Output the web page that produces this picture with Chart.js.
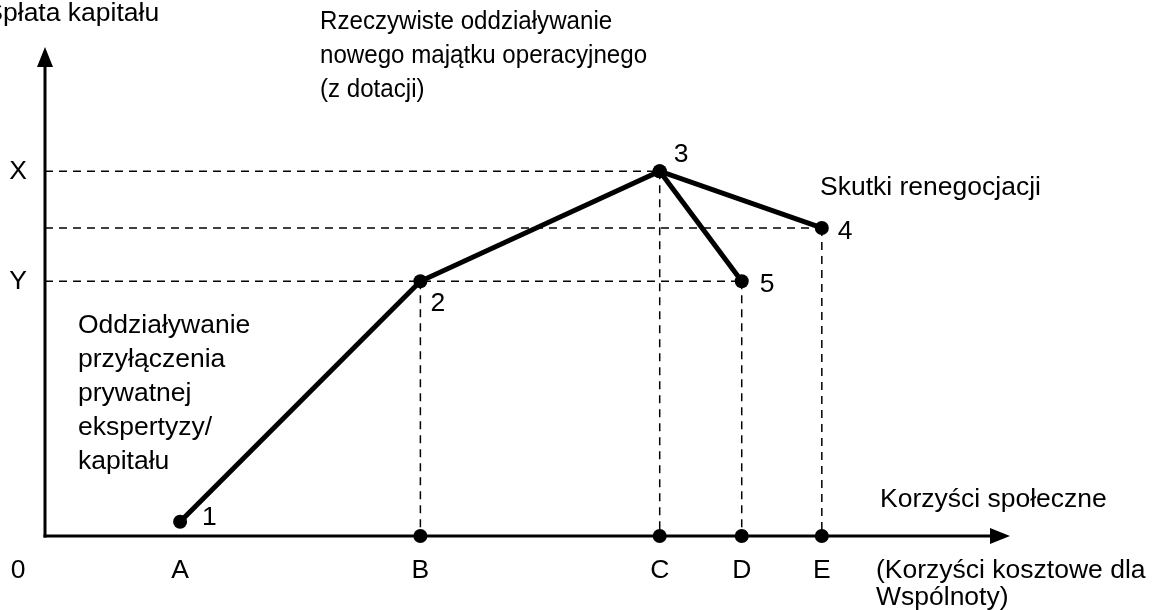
<!DOCTYPE html>
<html lang="pl">
<head>
<meta charset="UTF-8">
<title>Korzyści społeczne</title>
<style>
  body { margin: 0; background: #fff; }
  #wrap { width: 1152px; height: 610px; position: relative; }
</style>
</head>
<body>
<div id="wrap"><canvas id="myChart"></canvas></div>

<script src="https://cdn.jsdelivr.net/npm/chart.js"></script>
<script>
// points of the path (abstract units, origin = 0)
const pointNames = ['1', '2', '3', '4', '5'];
const pointX = [1.4, 3.89, 6.37, 8.05, 7.22];
const pointY = [0.29, 5.21, 7.46, 6.3, 5.21];
const mainPath = [0, 1, 2, 3];   // 1 -> 2 -> 3 -> 4
const branchPath = [2, 4];       // 3 -> 5

// axis ticks
const xTickLabels = ['0', 'A', 'B', 'C', 'D', 'E'];
const xTickValues = [0, 1.4, 3.89, 6.37, 7.22, 8.05];
const yTickLabels = ['X', 'Y'];
const yTickValues = [7.46, 5.21];

// dots sitting on the x axis
const axisDotX = [3.89, 6.37, 7.22, 8.05];

// dashed guides: [x of corner, y of corner]
const guideX = [6.37, 8.05, 7.22, 3.89];
const guideY = [7.46, 6.3, 5.21, 5.21];

const FONT = '"Liberation Sans", Arial, sans-serif';

function pathData(idx) {
    return idx.map(i => ({x: pointX[i], y: pointY[i]}))
}

let guideData = []
for (let i = 0; i < guideX.length; i++) {
    // horizontal from y axis, then vertical down to x axis
    guideData.push({x: 0, y: guideY[i]}, {x: guideX[i], y: guideY[i]}, {x: guideX[i], y: null})
    guideData.push({x: guideX[i], y: guideY[i]}, {x: guideX[i], y: 0}, {x: guideX[i], y: null})
}

const textPlugin = {
    id: 'texts',
    beforeDatasetsDraw(chart) {
        const c = chart.ctx;
        const xs = chart.scales.x, ys = chart.scales.y;
        const x0 = xs.getPixelForValue(0), y0 = ys.getPixelForValue(0);
        c.save();
        c.strokeStyle = '#000';
        c.fillStyle = '#000';
        c.lineWidth = 3;
        // y axis
        c.beginPath(); c.moveTo(x0, y0 + 1.5); c.lineTo(x0, chart.chartArea.top + 16); c.stroke();
        c.beginPath(); c.moveTo(x0, chart.chartArea.top); c.lineTo(x0 - 8, chart.chartArea.top + 20);
        c.lineTo(x0 + 8, chart.chartArea.top + 20); c.closePath(); c.fill();
        // x axis
        c.beginPath(); c.moveTo(x0 - 1.5, y0); c.lineTo(chart.chartArea.right - 16, y0); c.stroke();
        c.beginPath(); c.moveTo(chart.chartArea.right, y0); c.lineTo(chart.chartArea.right - 20, y0 - 8);
        c.lineTo(chart.chartArea.right - 20, y0 + 8); c.closePath(); c.fill();
        c.restore();
    },
    afterDraw(chart) {
        const c = chart.ctx;
        const xs = chart.scales.x, ys = chart.scales.y;
        const y0 = ys.getPixelForValue(0);
        c.save();
        c.fillStyle = '#000';
        c.font = '26.5px ' + FONT;
        c.textBaseline = 'middle';

        // x tick letters
        c.textAlign = 'center';
        xTickLabels.forEach((t, i) => {
            let px = i === 0 ? 18 : xs.getPixelForValue(xTickValues[i]);
            c.fillText(t, px, y0 + 35);
        })
        // y tick letters
        yTickLabels.forEach((t, i) => {
            c.fillText(t, 18, ys.getPixelForValue(yTickValues[i]));
        })

        // point numbers
        c.textAlign = 'left';
        const offs = [[22, -4], [10, 22], [14, -17], [16, 4], [18, 3]];
        pointNames.forEach((n, i) => {
            c.fillText(n, xs.getPixelForValue(pointX[i]) + offs[i][0], ys.getPixelForValue(pointY[i]) + offs[i][1]);
        })

        // y axis title (clipped at the left edge like the source)
        const title = 'Spłata kapitału';
        c.fillText(title, 3 - c.measureText('S').width, 14);

        const block = (lines, x, y, lh) => lines.forEach((l, i) => c.fillText(l, x, y + i * lh));
        block(['Skutki renegocjacji'], 820, 188, 34);
        block(['Oddziaływanie', 'przyłączenia', 'prywatnej', 'ekspertyzy/', 'kapitału'], 78, 326, 34);
        block(['Korzyści społeczne'], 880, 500, 34);
        block(['(Korzyści kosztowe dla', 'Wspólnoty)'], 876, 571, 27);

        // the upper note is set a little narrower
        c.save();
        c.translate(320, 0);
        c.scale(0.91, 1);
        block(['Rzeczywiste oddziaływanie', 'nowego majątku operacyjnego', '(z dotacji)'], 0, 22, 34);
        c.restore();
        c.restore();
    }
}

new Chart(document.getElementById('myChart'), {
    type: 'scatter',
    data: {
        datasets: [
            {
                data: guideData,
                showLine: true,
                spanGaps: false,
                borderColor: '#000',
                borderWidth: 1.5,
                borderDash: [8, 6],
                pointRadius: 0,
                clip: false
            },
            {
                data: pathData(mainPath),
                showLine: true,
                borderColor: '#000',
                borderWidth: 5,
                pointRadius: 7,
                pointBackgroundColor: '#000',
                pointBorderWidth: 0,
                clip: false
            },
            {
                data: pathData(branchPath),
                showLine: true,
                borderColor: '#000',
                borderWidth: 5,
                pointRadius: 7,
                pointBackgroundColor: '#000',
                pointBorderWidth: 0,
                clip: false
            },
            {
                data: axisDotX.map(v => ({x: v, y: 0})),
                showLine: false,
                pointRadius: 7,
                pointBackgroundColor: '#000',
                pointBorderWidth: 0,
                clip: false
            }
        ]
    },
    options: {
        responsive: true,
        maintainAspectRatio: false,
        animation: false,
        layout: { padding: { left: 45, right: 142, top: 47, bottom: 74 } },
        plugins: { legend: { display: false }, tooltip: { enabled: false } },
        scales: {
            x: { type: 'linear', min: 0, max: 10, display: false },
            y: { type: 'linear', min: 0, max: 10, display: false }
        }
    },
    plugins: [textPlugin]
});
</script>
</body>
</html>
